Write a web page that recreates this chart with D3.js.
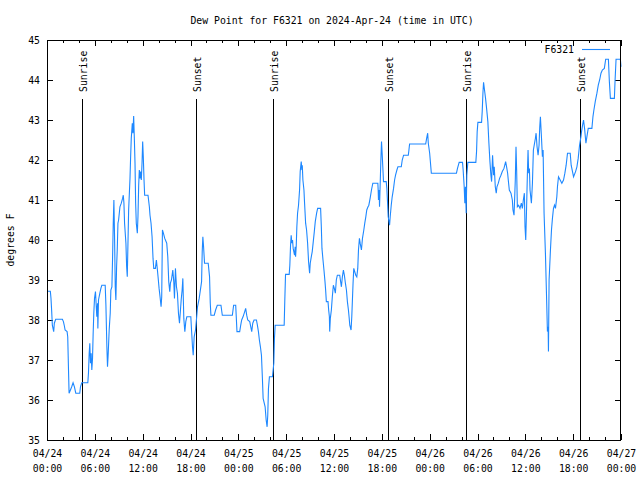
<!DOCTYPE html>
<html>
<head>
<meta charset="utf-8">
<script src="https://cdn.jsdelivr.net/npm/d3@7"></script>
<style>
  html, body { margin: 0; padding: 0; background: #fff; }
  svg text { font-family: "DejaVu Sans Mono", "Liberation Mono", monospace; font-size: 9.8px; fill: #000; }
</style>
</head>
<body>
<svg id="chart" width="640" height="480"></svg>
<script>
// ---- data (hours since 2024-04-24 00:00 UTC, dew point in degrees F) ----
const hours = [0.08,0.42,0.50,0.59,0.67,0.84,0.92,1.09,1.93,2.06,2.18,2.27,2.52,2.60,2.69,2.77,2.94,3.10,3.27,3.44,3.61,4.11,4.20,4.36,5.12,5.20,5.29,5.37,5.45,5.54,5.62,5.71,5.79,5.87,5.96,6.08,6.25,6.34,6.38,6.46,6.63,6.76,6.88,7.30,7.39,7.51,7.59,7.68,7.80,7.93,8.01,8.14,8.22,8.31,8.39,8.48,8.56,8.64,8.73,8.81,8.90,8.98,9.15,9.32,9.48,9.57,9.65,9.73,9.90,9.99,10.07,10.24,10.41,10.49,10.57,10.70,10.78,10.87,10.95,11.04,11.12,11.20,11.33,11.41,11.50,11.58,11.67,11.75,11.83,11.92,12.00,12.08,12.17,12.25,12.67,12.84,12.92,13.05,13.18,13.30,13.39,13.60,13.72,13.81,13.93,14.06,14.18,14.31,14.39,14.48,14.60,14.77,15.02,15.15,15.27,15.40,15.48,15.61,15.78,15.90,15.99,16.11,16.24,16.36,16.49,16.62,16.74,16.83,16.95,17.04,17.16,17.29,17.41,17.54,18.04,18.13,18.25,18.34,18.46,18.63,18.76,18.88,19.09,19.39,19.47,19.55,19.64,19.76,20.22,20.39,20.48,20.56,20.98,21.15,21.36,21.82,21.99,23.25,23.41,23.67,23.83,24.17,24.30,24.42,24.59,24.80,24.92,25.05,25.18,25.43,25.68,25.81,25.97,26.27,26.39,26.52,26.64,26.77,26.90,27.02,27.11,27.36,27.49,27.61,27.69,27.78,27.90,28.28,28.45,28.53,28.62,29.75,29.83,29.92,30.38,30.46,30.55,30.63,30.71,30.80,30.88,31.05,31.13,31.18,31.26,31.34,31.43,31.55,31.68,31.76,31.89,31.97,32.02,32.10,32.23,32.31,32.44,32.56,32.69,32.81,32.94,33.02,33.15,33.27,33.40,33.53,33.65,33.82,33.95,34.32,34.41,34.49,34.62,34.74,34.87,34.95,35.04,35.25,35.33,35.42,35.46,35.54,35.67,35.79,35.92,36.04,36.17,36.29,36.42,36.72,36.80,36.93,37.05,37.18,37.30,37.43,37.56,37.68,37.81,37.89,37.98,38.14,38.23,38.31,38.39,38.48,38.60,38.73,38.86,38.98,39.07,39.19,39.28,39.44,39.57,39.74,39.86,39.99,40.11,40.24,40.37,40.53,40.70,40.87,41.50,41.54,41.58,41.67,41.71,41.88,41.96,42.04,42.21,42.55,42.63,42.72,42.80,42.97,43.05,43.18,43.30,43.47,43.60,43.72,43.89,44.02,44.44,44.56,44.73,45.32,45.40,45.48,47.50,47.62,47.75,47.83,48.00,48.21,51.36,51.49,51.70,52.12,52.20,52.33,52.41,52.49,52.58,52.66,52.79,53.79,53.88,53.96,54.05,54.51,54.59,54.68,54.76,54.88,55.01,55.14,55.30,55.43,55.56,55.68,55.77,55.89,56.02,56.10,56.23,56.35,56.44,56.61,56.77,56.94,57.11,57.32,57.53,57.65,57.78,57.86,57.99,58.20,58.37,58.45,58.58,58.66,58.74,58.83,58.91,59.00,59.16,59.33,59.50,59.63,59.75,59.88,59.96,60.05,60.13,60.26,60.34,60.42,60.51,60.59,60.76,60.89,61.01,61.26,61.35,61.47,61.60,61.72,61.81,61.89,62.02,62.14,62.23,62.35,62.52,62.65,62.77,62.86,62.90,62.98,63.15,63.28,63.40,63.53,63.66,63.78,63.95,64.03,64.16,64.37,64.58,64.79,64.96,65.12,65.29,65.63,65.75,66.05,66.30,66.47,66.63,66.80,66.97,67.05,67.18,67.30,67.43,67.60,67.72,67.89,68.35,68.48,68.60,68.77,68.98,69.15,69.32,69.49,69.66,69.91,70.08,70.42,70.54,70.67,71.17,71.25,71.38,71.92,72.00];
const dewF = [38.72,38.72,38.54,38.21,37.87,37.71,37.92,38.02,38.02,37.96,37.85,37.75,37.71,37.58,36.81,36.17,36.25,36.33,36.43,36.33,36.17,36.17,36.33,36.43,36.43,36.67,37.17,37.42,36.92,37.17,36.75,37.04,37.67,38.17,38.54,38.71,38.08,38.42,37.79,38.50,38.67,38.79,38.87,38.87,38.37,37.33,36.83,37.17,37.75,38.17,38.75,38.83,39.50,40.42,41.00,40.00,38.83,38.50,39.33,39.75,40.42,40.50,40.83,40.92,41.04,41.12,40.92,40.42,39.92,39.33,39.08,40.75,41.54,42.08,42.54,42.92,42.67,43.10,42.58,41.92,40.92,40.42,40.17,40.58,41.37,41.75,41.54,41.71,41.50,41.92,42.46,42.08,41.50,41.12,41.12,40.83,40.62,40.42,40.08,39.54,39.29,39.29,39.50,39.33,39.08,38.79,38.58,38.33,38.58,40.25,40.17,40.04,39.92,39.58,38.96,38.71,38.92,39.00,39.25,38.96,38.54,39.29,38.83,38.67,38.17,37.92,38.25,38.50,38.75,39.04,38.04,37.71,37.96,38.08,38.08,37.75,37.33,37.12,37.58,37.75,38.04,38.33,38.54,38.96,39.71,40.08,39.83,39.42,39.42,39.08,38.42,38.12,38.12,38.25,38.37,38.37,38.12,38.12,38.37,38.37,37.71,37.71,37.87,38.00,38.08,38.21,38.29,38.12,38.00,37.96,37.71,37.92,38.00,38.00,37.87,37.71,37.50,37.33,37.12,36.54,36.04,35.83,35.50,35.33,35.62,36.29,36.58,36.58,36.92,37.54,37.87,37.87,38.50,39.14,39.14,39.37,39.87,40.12,39.92,40.00,39.79,39.62,39.83,39.58,39.83,40.33,40.67,40.87,41.25,41.71,41.96,41.75,41.87,41.50,41.25,40.92,40.42,40.25,39.92,39.46,39.17,39.42,39.58,39.71,39.96,40.21,40.46,40.67,40.79,40.79,40.33,39.79,39.50,39.25,38.96,38.75,38.46,38.46,38.25,38.08,37.71,38.04,38.25,38.58,38.87,38.79,38.67,39.00,39.12,39.12,39.00,38.83,39.08,39.25,39.12,38.92,38.75,38.46,38.25,38.08,37.87,37.75,38.08,38.50,38.92,39.29,39.21,39.12,39.08,39.29,39.75,40.04,39.92,39.75,40.04,40.25,40.42,40.58,40.75,40.82,40.87,41.04,41.25,41.42,41.42,41.25,41.00,41.25,40.83,42.00,42.46,42.17,41.46,41.46,41.29,40.92,40.58,40.37,40.58,40.87,41.08,41.29,41.50,41.62,41.75,41.83,41.83,42.00,42.12,42.12,42.25,42.40,42.40,42.54,42.67,42.42,42.17,41.67,41.67,41.79,41.94,41.94,41.75,41.33,40.92,41.33,40.67,41.62,41.94,41.94,42.21,42.71,42.94,42.94,43.21,43.67,43.94,43.75,43.54,43.29,42.96,42.42,41.96,41.62,41.46,42.12,41.62,41.83,41.33,41.17,41.33,41.42,41.54,41.62,41.71,41.79,41.96,41.83,41.67,41.50,41.25,41.17,41.00,40.75,40.62,41.04,41.50,42.33,41.75,40.83,40.87,40.79,40.92,40.79,41.00,41.17,40.33,40.00,40.58,41.67,42.25,41.67,41.79,41.25,40.92,41.42,42.25,42.54,42.67,42.33,42.12,42.37,42.83,43.08,42.58,42.08,42.25,40.67,39.67,38.67,37.71,37.83,37.21,39.00,39.75,40.25,40.54,40.79,40.87,40.79,41.08,41.33,41.58,41.50,41.42,41.50,41.67,41.87,42.17,42.17,41.87,41.58,41.71,41.83,42.04,42.37,42.58,42.71,42.87,43.00,42.79,42.42,42.58,42.79,42.79,43.08,43.25,43.46,43.67,43.87,44.00,44.17,44.25,44.29,44.52,44.52,43.96,43.54,43.54,43.96,44.52,44.52,44.33];

const sunHours  = [4.43, 18.75, 28.41, 42.81, 52.52, 66.90];
const sunLabels = ["Sunrise", "Sunset", "Sunrise", "Sunset", "Sunrise", "Sunset"];

const xMajorHours = [0, 6, 12, 18, 24, 30, 36, 42, 48, 54, 60, 66, 72];
const xTickDates  = ["04/24","04/24","04/24","04/24","04/25","04/25","04/25","04/25","04/26","04/26","04/26","04/26","04/27"];
const xTickTimes  = ["00:00","06:00","12:00","18:00","00:00","06:00","12:00","18:00","00:00","06:00","12:00","18:00","00:00"];
const xMinorHours = [2, 4, 8, 10, 14, 16, 20, 22, 26, 28, 32, 34, 38, 40, 44, 46, 50, 52, 56, 58, 62, 64, 68, 70];
const yTicks = [35, 36, 37, 38, 39, 40, 41, 42, 43, 44, 45];

const titleText  = "Dew Point for F6321 on 2024-Apr-24 (time in UTC)";
const yTitleText = "degrees F";
const seriesName = "F6321";

// ---- layout ----
const L = 47, R = 621, T = 40, B = 440;
const lineColor = "#1e88ff";

const svg = d3.select("#chart");
svg.append("rect").attr("width", 640).attr("height", 480).attr("fill", "#fff");

const x = d3.scaleLinear().domain([0, 72]).range([L, R]);
const y = d3.scaleLinear().domain([35, 45]).range([B, T]);

function styleAxis(g) {
  g.select(".domain").remove();
  g.selectAll(".tick line").attr("stroke", "#000").attr("shape-rendering", "crispEdges");
  g.selectAll("text").attr("font-family", null).attr("font-size", null).attr("fill", "#000");
}

// bottom major with two-line labels
const gB = svg.append("g").attr("transform", `translate(0,${B})`)
  .call(d3.axisBottom(x).tickValues(xMajorHours).tickSizeInner(-6).tickSizeOuter(0)
        .tickFormat((d, i) => xTickDates[i]));
styleAxis(gB);
gB.selectAll(".tick text").each(function(d, i) {
  const t = d3.select(this);
  t.text(null).attr("y", null).attr("dy", null);
  t.append("tspan").attr("x", 0).attr("y", 17).text(xTickDates[i]);
  t.append("tspan").attr("x", 0).attr("y", 32).text(xTickTimes[i]);
});
styleAxis(svg.append("g").attr("transform", `translate(0,${B})`)
  .call(d3.axisBottom(x).tickValues(xMinorHours).tickSizeInner(-3).tickSizeOuter(0).tickFormat("")));

// top mirror
styleAxis(svg.append("g").attr("transform", `translate(0,${T})`)
  .call(d3.axisTop(x).tickValues(xMajorHours).tickSizeInner(-6).tickSizeOuter(0).tickFormat("")));
styleAxis(svg.append("g").attr("transform", `translate(0,${T})`)
  .call(d3.axisTop(x).tickValues(xMinorHours).tickSizeInner(-3).tickSizeOuter(0).tickFormat("")));

// left
const gL = svg.append("g").attr("transform", `translate(${L},0)`)
  .call(d3.axisLeft(y).tickValues(yTicks).tickSizeInner(-6).tickSizeOuter(0).tickPadding(7).tickFormat(d3.format("d")));
styleAxis(gL);
// right mirror
styleAxis(svg.append("g").attr("transform", `translate(${R},0)`)
  .call(d3.axisRight(y).tickValues(yTicks).tickSizeInner(-6).tickSizeOuter(0).tickFormat("")));

// sunrise / sunset
const sun = svg.append("g");
sunHours.forEach((h, i) => {
  const sx = Math.round(x(h)) + 0.5;
  sun.append("line").attr("x1", sx).attr("x2", sx).attr("y1", 99).attr("y2", B)
    .attr("stroke", "#000").attr("stroke-width", 1);
  sun.append("text").attr("transform", `translate(${sx + 4},92) rotate(-90)`)
    .attr("text-anchor", "start").text(sunLabels[i]);
});

// data line
const pts = hours.map((h, i) => [h, dewF[i]]);
svg.append("path").datum(pts)
  .attr("fill", "none").attr("stroke", lineColor).attr("stroke-width", 1.1)
  .attr("stroke-linejoin", "miter")
  .attr("d", d3.line().x(d => x(d[0])).y(d => y(d[1])));

// frame
svg.append("rect").attr("x", L + 0.5).attr("y", T + 0.5).attr("width", R - L - 1).attr("height", B - T)
  .attr("fill", "none").attr("stroke", "#000").attr("shape-rendering", "crispEdges");

// title
svg.append("text").attr("x", 332).attr("y", 24).attr("text-anchor", "middle").text(titleText);
// y title
svg.append("text").attr("transform", "translate(14,240) rotate(-90)").attr("text-anchor", "middle").text(yTitleText);

// legend
svg.append("text").attr("x", 574).attr("y", 53).attr("text-anchor", "end").text(seriesName);
svg.append("line").attr("x1", 582).attr("x2", 610).attr("y1", 49.5).attr("y2", 49.5)
  .attr("stroke", lineColor).attr("stroke-width", 1.1);
</script>
</body>
</html>
